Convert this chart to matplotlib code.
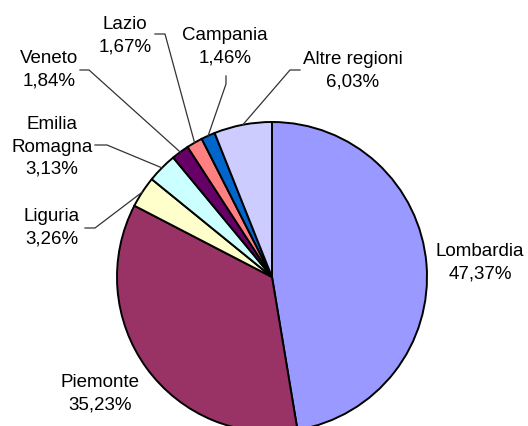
import numpy as np
import matplotlib.pyplot as plt

plt.rcParams['font.family'] = ['Liberation Sans', 'DejaVu Sans']

regions = ["Lombardia", "Piemonte", "Liguria", "Emilia\nRomagna", "Veneto",
           "Lazio", "Campania", "Altre regioni"]
shares = [47.37, 35.23, 3.26, 3.13, 1.84, 1.67, 1.46, 6.03]
colors = ["#9999FF", "#993366", "#FFFFCC", "#CCFFFF", "#660066",
          "#FF8080", "#0066CC", "#CCCCFF"]

W, H = 528, 427
fig = plt.figure(figsize=(W / 100, H / 100), dpi=100)
ax = fig.add_axes([0, 0, 1, 1])

# pie centre / radius in pixel units (y measured from the bottom)
cx, cy, r = 272, H - 278, 155
wedges, _ = ax.pie(shares, colors=colors, startangle=90, counterclock=False,
                   center=(cx, cy), radius=r, frame=True,
                   wedgeprops=dict(edgecolor='black', linewidth=1.4))
ax.set_xlim(0, W)
ax.set_ylim(0, H)
ax.set_aspect('equal')
ax.axis('off')

# label block centres (pixels from top-left)
label_pos = [(480, 263), (100, 394), (52, 228), (52, 147), (49, 70),
             (125, 36), (225, 47), (353, 71)]
# leader line elbow and end points (None = no leader)
leaders = [None, None,
           ((95, 229), (85, 229)),
           ((107, 146), (95, 146)),
           ((89, 71), (80, 71)),
           ((165, 35), (155, 35)),
           ((226, 85), (226, 77)),
           ((290, 71), (300, 71))]

for w, name, val, (lx, ly), lead in zip(wedges, regions, shares, label_pos, leaders):
    txt = name + "\n" + f"{val:.2f}".replace('.', ',') + "%"
    ax.text(lx, H - ly, txt, ha='center', va='center', fontsize=13.5,
            linespacing=1.42, color='black')
    if lead is not None:
        ang = np.deg2rad((w.theta1 + w.theta2) / 2)
        px, py = cx + r * np.cos(ang), cy + r * np.sin(ang)
        (ex, ey), (tx, ty) = lead
        ax.plot([px, ex, tx], [py, H - ey, H - ty], color='#333333', lw=0.9,
                solid_joinstyle='miter')

fig.savefig("out.png", dpi=100)
